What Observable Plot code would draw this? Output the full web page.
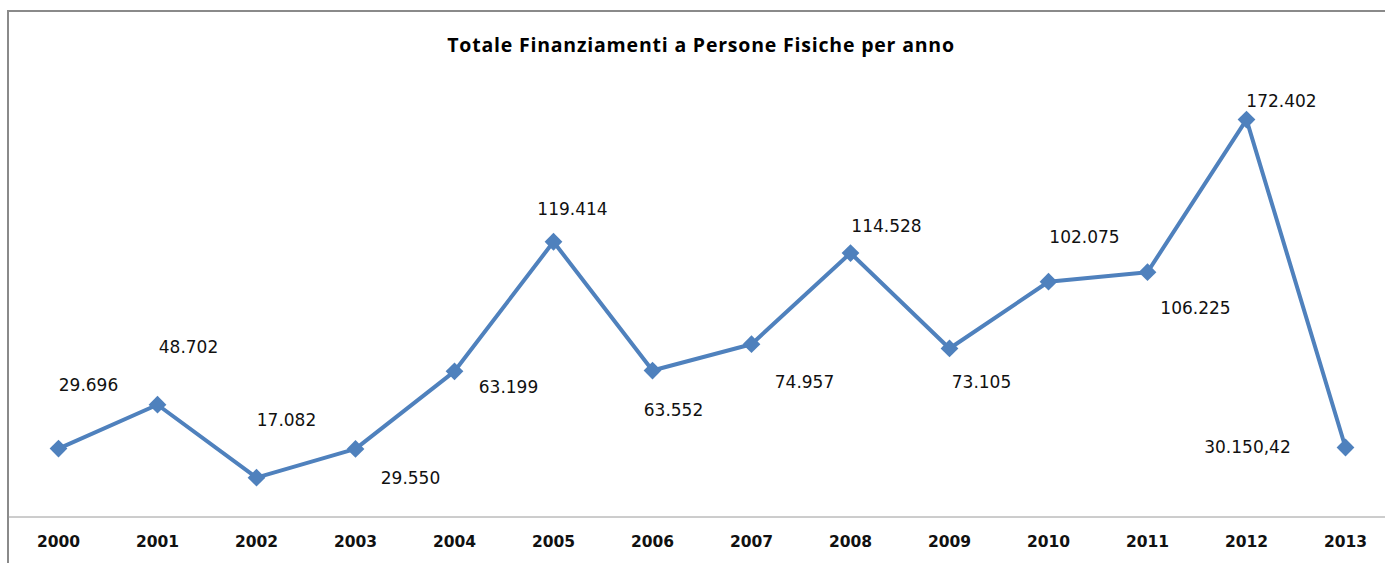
<!DOCTYPE html>
<html><head><meta charset="utf-8">
<script src="https://cdn.jsdelivr.net/npm/d3@7"></script>
<script src="https://cdn.jsdelivr.net/npm/@observablehq/plot@0.6"></script>
<style>
html,body{margin:0;padding:0;background:#fff;overflow:hidden;width:1385px;height:563px;}
#frame{position:absolute;left:7px;top:10px;width:1400px;height:600px;border-top:2px solid #8a8a8a;border-left:2px solid #8a8a8a;}
#title{position:absolute;left:17px;top:34px;width:1368px;height:22px;line-height:22px;text-align:center;font-family:"Open Sans",sans-serif;font-weight:700;font-size:19.5px;color:#000;letter-spacing:0.8px;}
#chart{position:absolute;left:0;top:70px;}
</style></head><body>
<div id="frame"></div>
<div id="title">Totale Finanziamenti a Persone Fisiche per anno</div>
<div id="chart"></div>
<script>
const years = ["2000","2001","2002","2003","2004","2005","2006","2007","2008","2009","2010","2011","2012","2013"];
const values = [29696, 48702, 17082, 29550, 63199, 119414, 63552, 74957, 114528, 73105, 102075, 106225, 172402, 30150.42];
const labels = ["29.696","48.702","17.082","29.550","63.199","119.414","63.552","74.957","114.528","73.105","102.075","106.225","172.402","30.150,42"];
// label placement offsets (dx, dy) relative to each marker
const labelOffsets = [[30,-63],[31,-57],[30,-57],[55,30],[54,16],[19,-32],[21,40],[53,38],[36,-26],[32,34],[36,-44],[48,36],[35,-18],[-98,0]];

const data = years.map((y, i) => ({year: y, value: values[i], label: labels[i]}));

const plot = Plot.plot({
  width: 1385, height: 493,
  marginTop: 31.6, marginBottom: 46.5, marginLeft: 8.5, marginRight: 0,
  style: {background: "transparent", overflow: "visible"},
  x: {type: "point", domain: years, range: [58, 1345], padding: 0},
  y: {domain: [0, 180000], axis: null},
  marks: [
    Plot.ruleY([0], {stroke: "#9a9a9a", strokeWidth: 1}),
    Plot.axisX({tickSize: 0, tickPadding: 19, label: null, fontSize: 15.5, fontWeight: "bold", fontFamily: "DejaVu Sans", fill: "#111"}),
    Plot.line(data, {x: "year", y: "value", stroke: "#4f81bd", strokeWidth: 4, strokeLinejoin: "round"}),
    Plot.dot(data, {x: "year", y: "value", symbol: "diamond2", r: 8, fill: "#4f81bd", stroke: "none"}),
    ...data.map((d, i) => Plot.text([d], {x: "year", y: "value", text: "label", dx: labelOffsets[i][0], dy: labelOffsets[i][1], fontSize: 17, fontFamily: "DejaVu Sans", fill: "#111", textAnchor: "middle", lineAnchor: "middle", letterSpacing: 0.6}))
  ]
});
document.getElementById("chart").appendChild(plot);
</script>
</body></html>
